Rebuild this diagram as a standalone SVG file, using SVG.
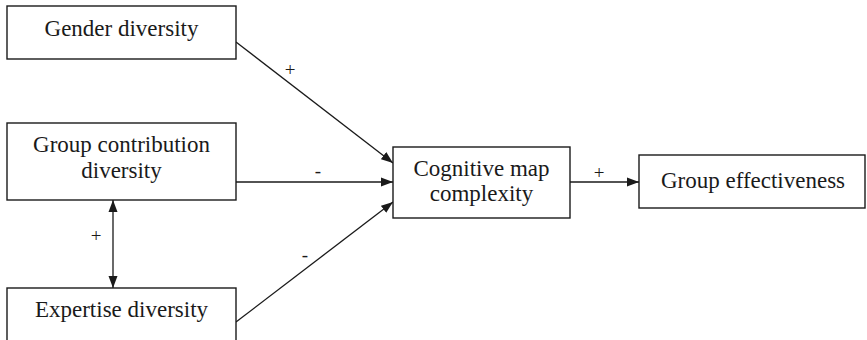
<svg xmlns="http://www.w3.org/2000/svg" width="867" height="340" viewBox="0 0 867 340">
  <style>
    .box { fill: #fff; stroke: #1a1a1a; stroke-width: 1.4; }
    .edge { stroke: #1a1a1a; stroke-width: 1.3; fill: none; }
  </style>
  <defs>
    <!-- filled triangular arrowhead shared by every connector -->
    <marker id="arrow" viewBox="0 0 12 10" refX="12" refY="5" markerWidth="12" markerHeight="10" markerUnits="userSpaceOnUse" orient="auto-start-reverse">
      <path d="M0,0.5 L12,5 L0,9.5 Z" fill="#1a1a1a"/>
    </marker>
  </defs>

  <rect width="867" height="340" fill="#fff"/>

  <g id="connectors" font-family="Liberation Serif, serif" font-size="19" fill="#1a1a1a" text-anchor="middle">
    <line class="edge" x1="236" y1="42" x2="393" y2="163" marker-end="url(#arrow)"/>
    <line class="edge" x1="236" y1="182" x2="393" y2="182" marker-end="url(#arrow)"/>
    <line class="edge" x1="236" y1="322" x2="393" y2="202" marker-end="url(#arrow)"/>
    <line class="edge" x1="570" y1="182" x2="639" y2="182" marker-end="url(#arrow)"/>
    <line class="edge" x1="113" y1="200" x2="113" y2="288" marker-start="url(#arrow)" marker-end="url(#arrow)"/>
    <text x="290" y="76">+</text>
    <text x="318" y="177">-</text>
    <text x="305" y="261">-</text>
    <text x="599" y="179">+</text>
    <text x="96" y="242">+</text>
  </g>

  <g font-family="Liberation Serif, serif" font-size="23" fill="#1a1a1a" text-anchor="middle">
    <g id="gender">
      <rect class="box" x="7" y="6" width="229" height="53"/>
      <text x="121.5" y="36">Gender diversity</text>
    </g>

    <g id="contribution">
      <rect class="box" x="7" y="123" width="229" height="77"/>
      <text x="121.5" y="152">Group contribution</text>
      <text x="121.5" y="178">diversity</text>
    </g>

    <g id="expertise">
      <rect class="box" x="7" y="288" width="229" height="60"/>
      <text x="121.5" y="317">Expertise diversity</text>
    </g>

    <g id="cognitive">
      <rect class="box" x="393" y="147" width="177" height="71"/>
      <text x="481.5" y="176">Cognitive map</text>
      <text x="481.5" y="201">complexity</text>
    </g>

    <g id="effectiveness">
      <rect class="box" x="639" y="155" width="226" height="53"/>
      <text x="753" y="188">Group effectiveness</text>
    </g>
  </g>
</svg>
